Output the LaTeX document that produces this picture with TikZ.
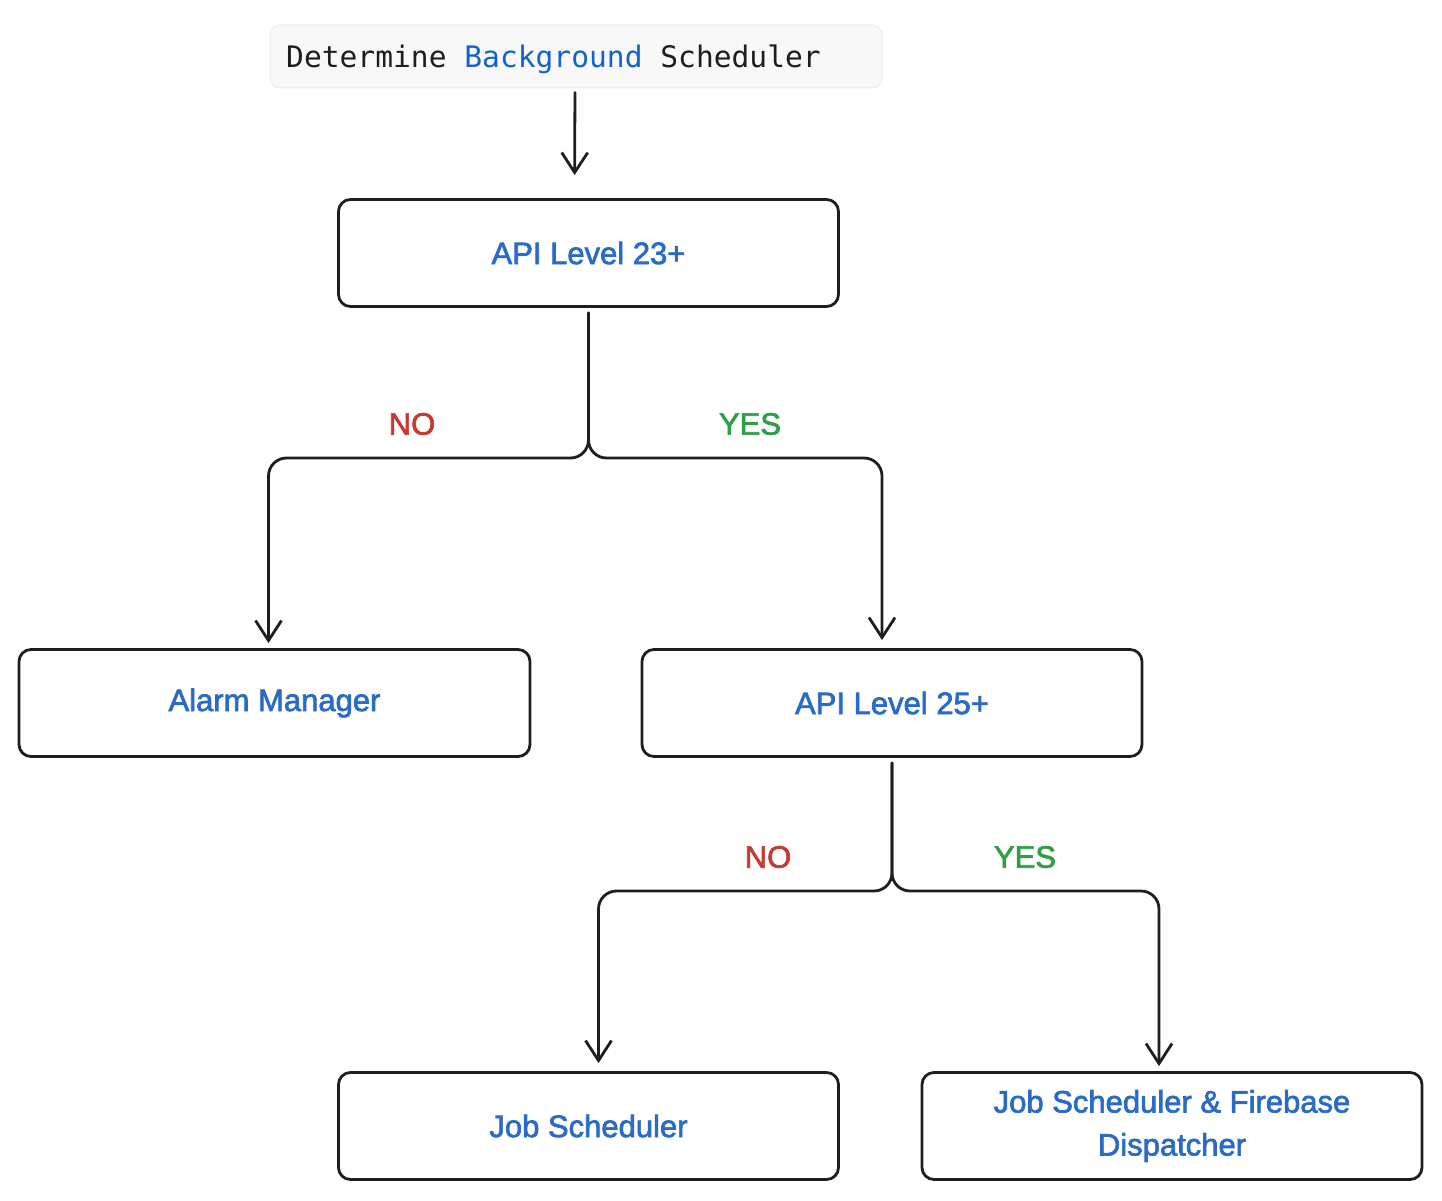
\documentclass[tikz,border=0pt]{standalone}
\usepackage{fontspec}
\setmainfont{Liberation Sans}
\newfontfamily\lblfont{Liberation Sans}[FakeBold=2.2]
\newfontfamily\codefont{DejaVu Sans Mono}
\usetikzlibrary{arrows.meta}
\definecolor{ink}{HTML}{1E1E1E}
\definecolor{lblue}{HTML}{2B6BC8}
\definecolor{cblue}{HTML}{1562C9}
\definecolor{nored}{HTML}{C53A32}
\definecolor{yesgreen}{HTML}{2F9E44}
\definecolor{codebg}{HTML}{F8F8F8}
\definecolor{codeedge}{HTML}{EEEEEE}
\newcommand{\msp}{\hspace*{17.8pt}}
\begin{document}
\begin{tikzpicture}[x=1pt,y=-1pt,
  box/.style={draw=ink, line width=2.8pt, rounded corners=12pt, minimum width=500pt,
    minimum height=107pt, align=center, text=lblue, inner sep=0pt,
    font=\lblfont\fontsize{31}{43}\selectfont},
  codebox/.style={draw=codeedge, fill=codebg, line width=1pt, rounded corners=10pt,
    minimum height=63pt, minimum width=612pt, inner sep=0pt},
  codetext/.style={font=\codefont\fontsize{29.6}{34}\selectfont, text=ink, inner sep=0pt},
  conn/.style={draw=ink, line width=2.8pt, line cap=round, line join=round,
    -{Straight Barb[length=20pt,width=26pt]}},
  fork/.style={conn, rounded corners=18pt},
  lbl/.style={font=\lblfont\fontsize{31}{37}\selectfont, inner sep=0pt}]
\useasboundingbox (0,0) rectangle (1442,1201);

\node[codebox] (top) at (576,56.5) {};
\node[codetext, anchor=base west] (toptext) at (286,68) {Determine\msp\textcolor{cblue}{Background}\msp Scheduler};

\node[box] (a23) at (588.5,253) {API Level 23+};
\node[box, minimum width=511pt] (alarm) at (274.5,703) {Alarm Manager};
\node[box] (a25) at (892,703) {API Level 25+};
\node[box] (job) at (588.5,1126) {Job Scheduler};
\node[box] (jsfd) at (1172,1126) {Job Scheduler \& Firebase\\Dispatcher};

\coordinate (br1) at (588,458);
\coordinate (br2) at (892,891);

\draw[conn, shorten <=4pt, shorten >=23pt] ([xshift=-1pt]top.south) -- ([xshift=-14pt]a23.north);

\draw[fork, shorten <=5pt, shorten >=5pt] (a23.south) -- (a23.south |- br1) -| ([xshift=-6pt]alarm.north);
\draw[fork, shorten <=5pt, shorten >=8pt] (a23.south) -- (a23.south |- br1) -| ([xshift=-10pt]a25.north);

\draw[fork, shorten <=5pt, shorten >=8pt] (a25.south) -- (a25.south |- br2) -| ([xshift=10pt]job.north);
\draw[fork, shorten <=5pt, shorten >=5pt] (a25.south) -- (a25.south |- br2) -| ([xshift=-13pt]jsfd.north);

\node[lbl, text=nored] (no1) at (412,424) {NO};
\node[lbl, text=yesgreen] (yes1) at (750,424) {YES};
\node[lbl, text=nored] (no2) at (768,857) {NO};
\node[lbl, text=yesgreen] (yes2) at (1025,857) {YES};
\end{tikzpicture}
\end{document}
